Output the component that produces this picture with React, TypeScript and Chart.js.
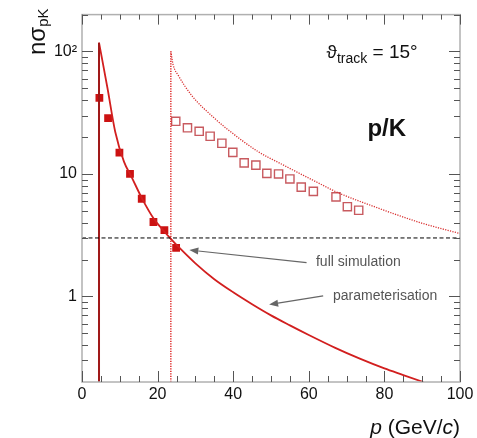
import React, { useEffect, useRef } from "react";
import { Chart, registerables } from "chart.js";

Chart.register(...registerables);

// full simulation (filled squares)
const simP = [4.6, 6.9, 9.9, 12.7, 15.8, 18.9, 21.8, 24.9];
const simN = [41.8, 28.6, 14.9, 10, 6.27, 4.05, 3.47, 2.49];

// open squares
const openP = [24.8, 27.9, 31, 33.9, 37, 39.9, 42.9, 46, 48.9, 52, 55, 58, 61.2, 67.2, 70.2, 73.2];
const openN = [26.9, 23.8, 22.3, 20.3, 17.8, 15, 12.3, 11.8, 10.1, 10, 9.1, 7.8, 7.2, 6.5, 5.4, 5.05];

// parameterisation (solid curve)
const paramP = [4.5, 6.7, 8.8, 11.1, 13, 16, 19, 21, 23.5, 26, 30, 35, 40, 45, 50, 55, 60, 67, 73.5, 80, 85, 90.3];
const paramN = [118, 51, 22, 12.6, 9.6, 6.2, 4.3, 3.6, 2.95, 2.45, 1.86, 1.38, 1.08, 0.863, 0.7, 0.58, 0.484, 0.38, 0.31, 0.258, 0.228, 0.2];

// dotted curve
const dotP = [23.5, 24.1, 25.5, 29, 35.2, 38.3, 46.6, 52.4, 63, 67.4, 78.8, 82.4, 90.3, 100];
const dotN = [100, 78, 63.6, 43.8, 28.2, 23.4, 15.2, 12.2, 8.3, 7.1, 5.2, 4.74, 3.93, 3.26];

// vertical cut-offs
const solidCutP = 4.5;
const solidCutTop = 118;
const dottedCutP = 23.5;
const dottedCutTop = 100;
const threshold = 3;

// axes
const xMin = 0;
const xMax = 100;
const yMin = 0.2;
const yMax = 200;
const xMajor = [0, 20, 40, 60, 80, 100];
const xMinor = [5, 10, 15, 25, 30, 35, 45, 50, 55, 65, 70, 75, 85, 90, 95];
const yMajor = [1, 10, 100];
const yMajorLabels = ["1", "10", "10²"];
const yMinor = [0.2, 0.3, 0.4, 0.5, 0.6, 0.7, 0.8, 0.9, 2, 3, 4, 5, 6, 7, 8, 9, 20, 30, 40, 50, 60, 70, 80, 90, 200];

// annotations (data coordinates)
const arrows = [
  { from: [59.4, 1.89], to: [28.4, 2.39] },
  { from: [63.8, 1.01], to: [49.5, 0.857] },
];
const notes = [
  { text: "full simulation", p: 61.9, n: 1.92 },
  { text: "parameterisation", p: 66.4, n: 1.0 },
];

const FONT = '"Liberation Sans", Arial, "DejaVu Sans", sans-serif';

const decorPlugin = {
  id: "decor",
  afterDraw(chart: any) {
    const ctx = chart.ctx as CanvasRenderingContext2D;
    const xs = chart.scales.x;
    const ys = chart.scales.y;
    const px = (v: number) => xs.getPixelForValue(v);
    const py = (v: number) => ys.getPixelForValue(v);
    const { left, right, top, bottom } = chart.chartArea;
    ctx.save();

    // frame
    ctx.strokeStyle = "#b0b0b0";
    ctx.lineWidth = 1.5;
    ctx.strokeRect(left, top, right - left, bottom - top);

    // ticks
    ctx.strokeStyle = "#555";
    ctx.lineWidth = 1;
    const tick = (x1: number, y1: number, x2: number, y2: number) => {
      ctx.beginPath();
      ctx.moveTo(x1, y1);
      ctx.lineTo(x2, y2);
      ctx.stroke();
    };
    xMajor.forEach((v) => {
      const x = Math.round(px(v)) + 0.5;
      tick(x, bottom, x, bottom - 11);
      tick(x, top, x, top + 10);
    });
    xMinor.forEach((v) => {
      const x = Math.round(px(v)) + 0.5;
      tick(x, bottom, x, bottom - 6);
      tick(x, top, x, top + 5);
    });
    yMajor.forEach((v) => {
      const y = Math.round(py(v)) + 0.5;
      tick(left, y, left + 11, y);
      tick(right, y, right - 11, y);
    });
    yMinor.forEach((v) => {
      const y = Math.round(py(v)) + 0.5;
      if (y < top || y > bottom) return;
      tick(left, y, left + 6, y);
      tick(right, y, right - 6, y);
    });

    // arrows
    ctx.strokeStyle = "#666";
    ctx.fillStyle = "#666";
    ctx.lineWidth = 1.2;
    arrows.forEach((a) => {
      const x1 = px(a.from[0]), y1 = py(a.from[1]);
      const x2 = px(a.to[0]), y2 = py(a.to[1]);
      const ang = Math.atan2(y2 - y1, x2 - x1);
      const L = 9, W = 3.5;
      const bx = x2 - L * Math.cos(ang), by = y2 - L * Math.sin(ang);
      ctx.beginPath();
      ctx.moveTo(x1, y1);
      ctx.lineTo(bx, by);
      ctx.stroke();
      ctx.beginPath();
      ctx.moveTo(x2, y2);
      ctx.lineTo(bx + W * Math.sin(ang), by - W * Math.cos(ang));
      ctx.lineTo(bx - W * Math.sin(ang), by + W * Math.cos(ang));
      ctx.closePath();
      ctx.fill();
    });

    // notes
    ctx.fillStyle = "#555";
    ctx.font = `14px ${FONT}`;
    ctx.textAlign = "left";
    ctx.textBaseline = "middle";
    notes.forEach((n) => ctx.fillText(n.text, px(n.p), py(n.n)));

    // theta label
    ctx.fillStyle = "#111";
    ctx.textBaseline = "alphabetic";
    let x = px(64.7);
    const yb = py(95) + 4;
    ctx.font = `19px ${FONT}`;
    ctx.fillText("ϑ", x, yb);
    x += ctx.measureText("ϑ").width;
    ctx.font = `14px ${FONT}`;
    ctx.fillText("track", x, yb + 5);
    x += ctx.measureText("track").width;
    ctx.font = `19px ${FONT}`;
    ctx.fillText(" = 15°", x, yb);

    // p/K
    ctx.font = `bold 24px ${FONT}`;
    ctx.fillText("p/K", px(75.5), py(23.5) + 8);

    // x title
    ctx.fillStyle = "#111";
    const parts: [string, boolean][] = [["p", true], [" (GeV/", false], ["c", true], [")", false]];
    const setF = (it: boolean) => (ctx.font = `${it ? "italic " : ""}21px ${FONT}`);
    let total = 0;
    parts.forEach(([t, it]) => { setF(it); total += ctx.measureText(t).width; });
    let xx = right - total;
    const xb = 434;
    parts.forEach(([t, it]) => { setF(it); ctx.fillText(t, xx, xb); xx += ctx.measureText(t).width; });

    // y title (rotated)
    ctx.save();
    ctx.translate(45, 55);
    ctx.rotate(-Math.PI / 2);
    ctx.font = `24px ${FONT}`;
    ctx.textAlign = "left";
    ctx.fillText("nσ", 0, 0);
    const w = ctx.measureText("nσ").width;
    ctx.font = `15px ${FONT}`;
    ctx.fillText("pK", w, 3);
    ctx.restore();

    ctx.restore();
  },
};

export default function App() {
  const ref = useRef<HTMLCanvasElement>(null);
  useEffect(() => {
    document.body.style.margin = "0";
    const toPts = (xs: number[], ys: number[]) => xs.map((x, i) => ({ x, y: ys[i] }));
    const chart = new Chart(ref.current!, {
      type: "scatter",
      data: {
        datasets: [
          {
            data: [{ x: xMin, y: threshold }, { x: xMax, y: threshold }],
            showLine: true,
            borderColor: "#000",
            borderWidth: 1,
            borderDash: [4, 2.5],
            pointRadius: 0,
          },
          {
            data: [{ x: solidCutP, y: yMin }, { x: solidCutP, y: solidCutTop }],
            showLine: true,
            borderColor: "#a01818",
            borderWidth: 2,
            pointRadius: 0,
          },
          {
            data: toPts(paramP, paramN),
            showLine: true,
            borderColor: "#d21f1f",
            borderWidth: 1.8,
            pointRadius: 0,
            cubicInterpolationMode: "monotone",
          },
          {
            data: [{ x: dottedCutP, y: yMin }, { x: dottedCutP, y: dottedCutTop }],
            showLine: true,
            borderColor: "#e02a2a",
            borderWidth: 1.5,
            borderDash: [1.2, 1.3],
            pointRadius: 0,
          },
          {
            data: toPts(dotP, dotN),
            showLine: true,
            borderColor: "#d83030",
            borderWidth: 1.3,
            borderDash: [1.2, 1.3],
            pointRadius: 0,
            cubicInterpolationMode: "monotone",
          },
          {
            data: toPts(openP, openN),
            pointStyle: "rect",
            pointRadius: 5.8,
            borderColor: "rgb(200,90,95)",
            borderWidth: 1.4,
            backgroundColor: "rgba(255,255,255,0)",
          },
          {
            data: toPts(simP, simN),
            pointStyle: "rect",
            pointRadius: 5.5,
            borderWidth: 0,
            borderColor: "#cc1212",
            backgroundColor: "#cc1212",
          },
        ],
      },
      options: {
        animation: false,
        responsive: false,
        events: [],
        layout: { padding: { left: 0, top: 12, right: 17, bottom: 0 } },
        plugins: { legend: { display: false }, tooltip: { enabled: false } },
        scales: {
          x: {
            type: "linear",
            min: xMin,
            max: xMax,
            grid: { display: false, drawTicks: false },
            border: { display: false },
            afterBuildTicks: (s: any) => { s.ticks = xMajor.map((v) => ({ value: v })); },
            afterFit: (s: any) => { s.height = 56; },
            ticks: {
              autoSkip: false,
              maxRotation: 0,
              padding: 3,
              color: "#111",
              font: { family: FONT, size: 16 },
              callback: (v: any) => String(v),
            },
          },
          y: {
            type: "logarithmic",
            min: yMin,
            max: yMax,
            grid: { display: false, drawTicks: false },
            border: { display: false },
            afterBuildTicks: (s: any) => { s.ticks = yMajor.map((v) => ({ value: v })); },
            afterFit: (s: any) => { s.width = 82; },
            ticks: {
              autoSkip: false,
              padding: 5,
              color: "#111",
              font: { family: FONT, size: 16 },
              callback: (v: any) => {
                const i = yMajor.indexOf(Number(v));
                return i >= 0 ? yMajorLabels[i] : "";
              },
            },
          },
        },
      },
      plugins: [decorPlugin],
    } as any);
    return () => chart.destroy();
  }, []);
  return <canvas ref={ref} width={477} height={438} style={{ display: "block" }} />;
}
